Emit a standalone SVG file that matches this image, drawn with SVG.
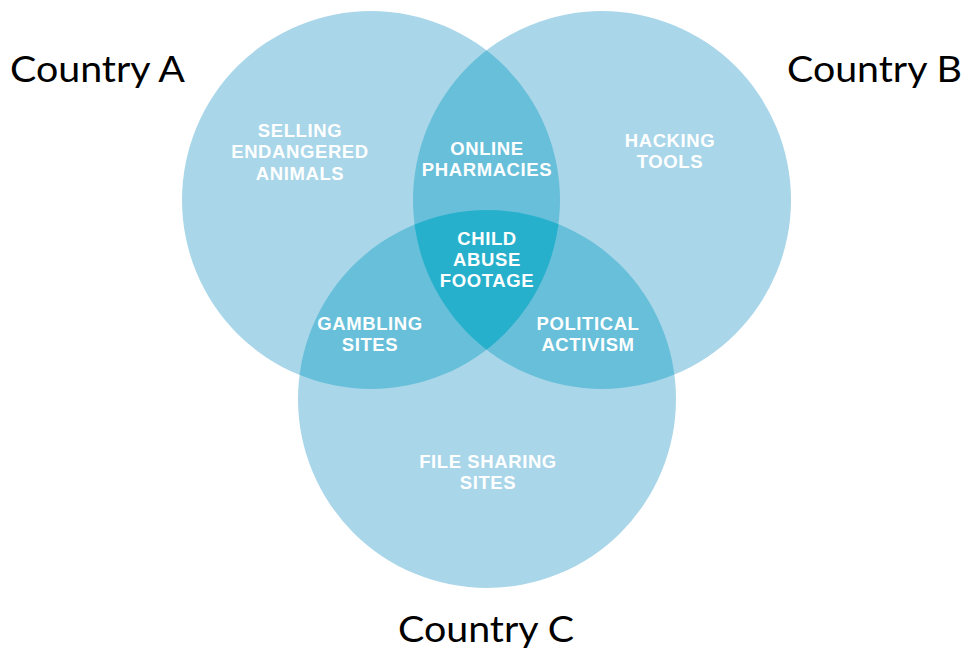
<svg xmlns="http://www.w3.org/2000/svg" width="967" height="651" viewBox="0 0 967 651">
<style>
.c{fill:#a9d6e9}
.m{fill:#68bfda}
.d{fill:#27b0cc}
.t{font-family:"Liberation Sans",Arial,sans-serif;font-weight:700;font-size:18.5px;fill:#ffffff;text-anchor:middle;letter-spacing:0.6px}
.l{font-family:Lato,"Open Sans",sans-serif;font-size:37px;fill:#000000}
</style>
<defs>
<clipPath id="cA"><circle cx="371" cy="200" r="189"/></clipPath>
<clipPath id="cB"><circle cx="602" cy="200" r="189"/></clipPath>
<clipPath id="cC"><circle cx="487" cy="399" r="189"/></clipPath>
</defs>
<rect width="967" height="651" fill="#ffffff"/>
<g id="circles">
<g id="countryA"><circle class="c" cx="371" cy="200" r="189"/></g>
<g id="countryB"><circle class="c" cx="602" cy="200" r="189"/></g>
<g id="countryC"><circle class="c" cx="487" cy="399" r="189"/></g>
<g id="AB" clip-path="url(#cA)"><circle class="m" cx="602" cy="200" r="189"/></g>
<g id="AC" clip-path="url(#cA)"><circle class="m" cx="487" cy="399" r="189"/></g>
<g id="BC" clip-path="url(#cB)"><circle class="m" cx="487" cy="399" r="189"/></g>
<g id="ABC" clip-path="url(#cA)"><g clip-path="url(#cB)"><circle class="d" cx="487" cy="399" r="189"/></g></g>
</g>
<g id="labels">
<text class="l" x="10" y="82" textLength="175" lengthAdjust="spacingAndGlyphs">Country A</text>
<text class="l" x="787" y="82" textLength="175" lengthAdjust="spacingAndGlyphs">Country B</text>
<text class="l" x="398" y="642" textLength="176" lengthAdjust="spacingAndGlyphs">Country C</text>
</g>
<g id="regions">
<text class="t" x="300" y="137">SELLING</text>
<text class="t" x="300" y="158">ENDANGERED</text>
<text class="t" x="300" y="180">ANIMALS</text>
<text class="t" x="487" y="155">ONLINE</text>
<text class="t" x="487" y="176">PHARMACIES</text>
<text class="t" x="670" y="147">HACKING</text>
<text class="t" x="670" y="168">TOOLS</text>
<text class="t" x="487" y="245">CHILD</text>
<text class="t" x="487" y="266">ABUSE</text>
<text class="t" x="487" y="287">FOOTAGE</text>
<text class="t" x="370" y="330">GAMBLING</text>
<text class="t" x="370" y="351">SITES</text>
<text class="t" x="588" y="330">POLITICAL</text>
<text class="t" x="588" y="351">ACTIVISM</text>
<text class="t" x="488" y="468">FILE SHARING</text>
<text class="t" x="488" y="489">SITES</text>
</g>
</svg>
